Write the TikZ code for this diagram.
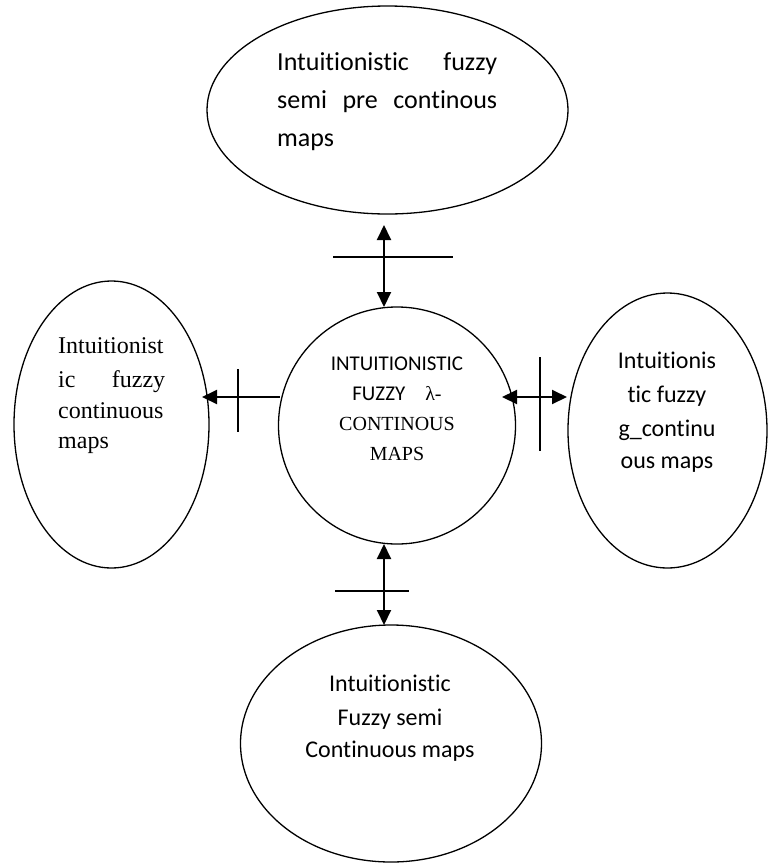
\documentclass[tikz,border=0pt]{standalone}
\usepackage{fontspec}
\setmainfont{Liberation Serif}
\newfontfamily\carl[Ligatures={NoCommon,NoContextual}]{Carlito}
\usetikzlibrary{shapes.geometric,arrows.meta}
\begin{document}
\begin{tikzpicture}[x=1pt,y=-1pt,
  oval/.style={draw,ellipse,line width=1.3pt,inner sep=0pt,outer sep=0pt},
  roundnode/.style={draw,circle,line width=1.3pt,inner sep=0pt,outer sep=0pt},
  conn/.style={line width=2pt,-{Triangle[length=15pt,width=14pt]}},
  dconn/.style={line width=2pt,{Triangle[length=15pt,width=14pt]}-{Triangle[length=15pt,width=14pt]}},
  bar/.style={line width=1.3pt},
  lbl/.style={inner sep=0pt,anchor=base west},
  clbl/.style={inner sep=0pt,anchor=base}]
\useasboundingbox (0,0) rectangle (776,863);

% shapes
\node[oval,minimum width=361pt,minimum height=208pt] (topE) at (387.5,110) {};
\node[roundnode,minimum size=237pt] (mid) at (397,425.5) {};
\node[oval,minimum width=195pt,minimum height=287pt] (leftE) at (111.5,424.5) {};
\node[oval,minimum width=199pt,minimum height=275pt] (rightE) at (667.5,430.5) {};
\node[oval,minimum width=301pt,minimum height=237pt] (botE) at (391,743.5) {};

% top ellipse text
\node[lbl,font=\carl\fontsize{26}{30}\selectfont] (t1) at (277,70.7) {\makebox[220pt][s]{Intuitionistic fuzzy}};
\node[lbl,font=\carl\fontsize{26}{30}\selectfont] (t2) at (277,108.3) {\makebox[220pt][s]{semi pre continous}};
\node[lbl,font=\carl\fontsize{26}{30}\selectfont] (t3) at (277,146) {maps};

% left ellipse text
\node[lbl,font=\fontsize{24}{28}\selectfont] (l1) at (58,353) {Intuitionist};
\node[lbl,font=\fontsize{24}{28}\selectfont] (l2) at (58,387) {\makebox[107pt][s]{ic fuzzy}};
\node[lbl,font=\fontsize{24}{28}\selectfont] (l3) at (58,418) {continuous};
\node[lbl,font=\fontsize{24}{28}\selectfont] (l4) at (58,448) {maps};

% right ellipse text
\node[clbl,font=\carl\fontsize{24}{28}\selectfont] (r1) at (667,368) {Intuitionis};
\node[clbl,font=\carl\fontsize{24}{28}\selectfont] (r2) at (667,402) {tic fuzzy};
\node[clbl,font=\carl\fontsize{24}{28}\selectfont] (r3) at (667,436) {g\_continu};
\node[clbl,font=\carl\fontsize{24}{28}\selectfont] (r4) at (667,468) {ous maps};

% centre text
\node[clbl,font=\carl\fontsize{21}{25}\selectfont] (m1) at (397,370) {INTUITIONISTIC};
\node[clbl,font=\carl\fontsize{21}{25}\selectfont] (m2) at (397,400) {FUZZY\hspace{20pt}{\rmfamily\fontsize{20}{24}\selectfont λ-}};
\node[clbl,font=\fontsize{20}{24}\selectfont] (m3) at (397,430) {CONTINOUS};
\node[clbl,font=\fontsize{20}{24}\selectfont] (m4) at (397,460) {MAPS};

% bottom ellipse text
\node[clbl,font=\carl\fontsize{24}{28}\selectfont] (b1) at (390,691) {Intuitionistic};
\node[clbl,font=\carl\fontsize{24}{28}\selectfont] (b2) at (390,725) {Fuzzy semi};
\node[clbl,font=\carl\fontsize{24}{28}\selectfont] (b3) at (390,757) {Continuous maps};

% connectors
\coordinate (ua) at (384,225);
\coordinate (ub) at (384,307);
\draw[dconn] (ua) -- (ub);
\coordinate (ubar1) at (333,257);
\coordinate (ubar2) at (453,257);
\draw[bar] (ubar1) -- (ubar2);

\coordinate (la) at (280,397);
\coordinate (lb) at (202,397);
\draw[conn] (la) -- (lb);
\coordinate (lbar1) at (238,369);
\coordinate (lbar2) at (238,432);
\draw[bar] (lbar1) -- (lbar2);

\coordinate (ra) at (502,397);
\coordinate (rb) at (567,397);
\draw[dconn] (ra) -- (rb);
\coordinate (rbar1) at (540,357);
\coordinate (rbar2) at (540,451);
\draw[bar] (rbar1) -- (rbar2);

\coordinate (da) at (384,544);
\coordinate (db) at (384,625);
\draw[dconn] (da) -- (db);
\coordinate (dbar1) at (335,591);
\coordinate (dbar2) at (409,591);
\draw[bar] (dbar1) -- (dbar2);
\end{tikzpicture}
\end{document}
